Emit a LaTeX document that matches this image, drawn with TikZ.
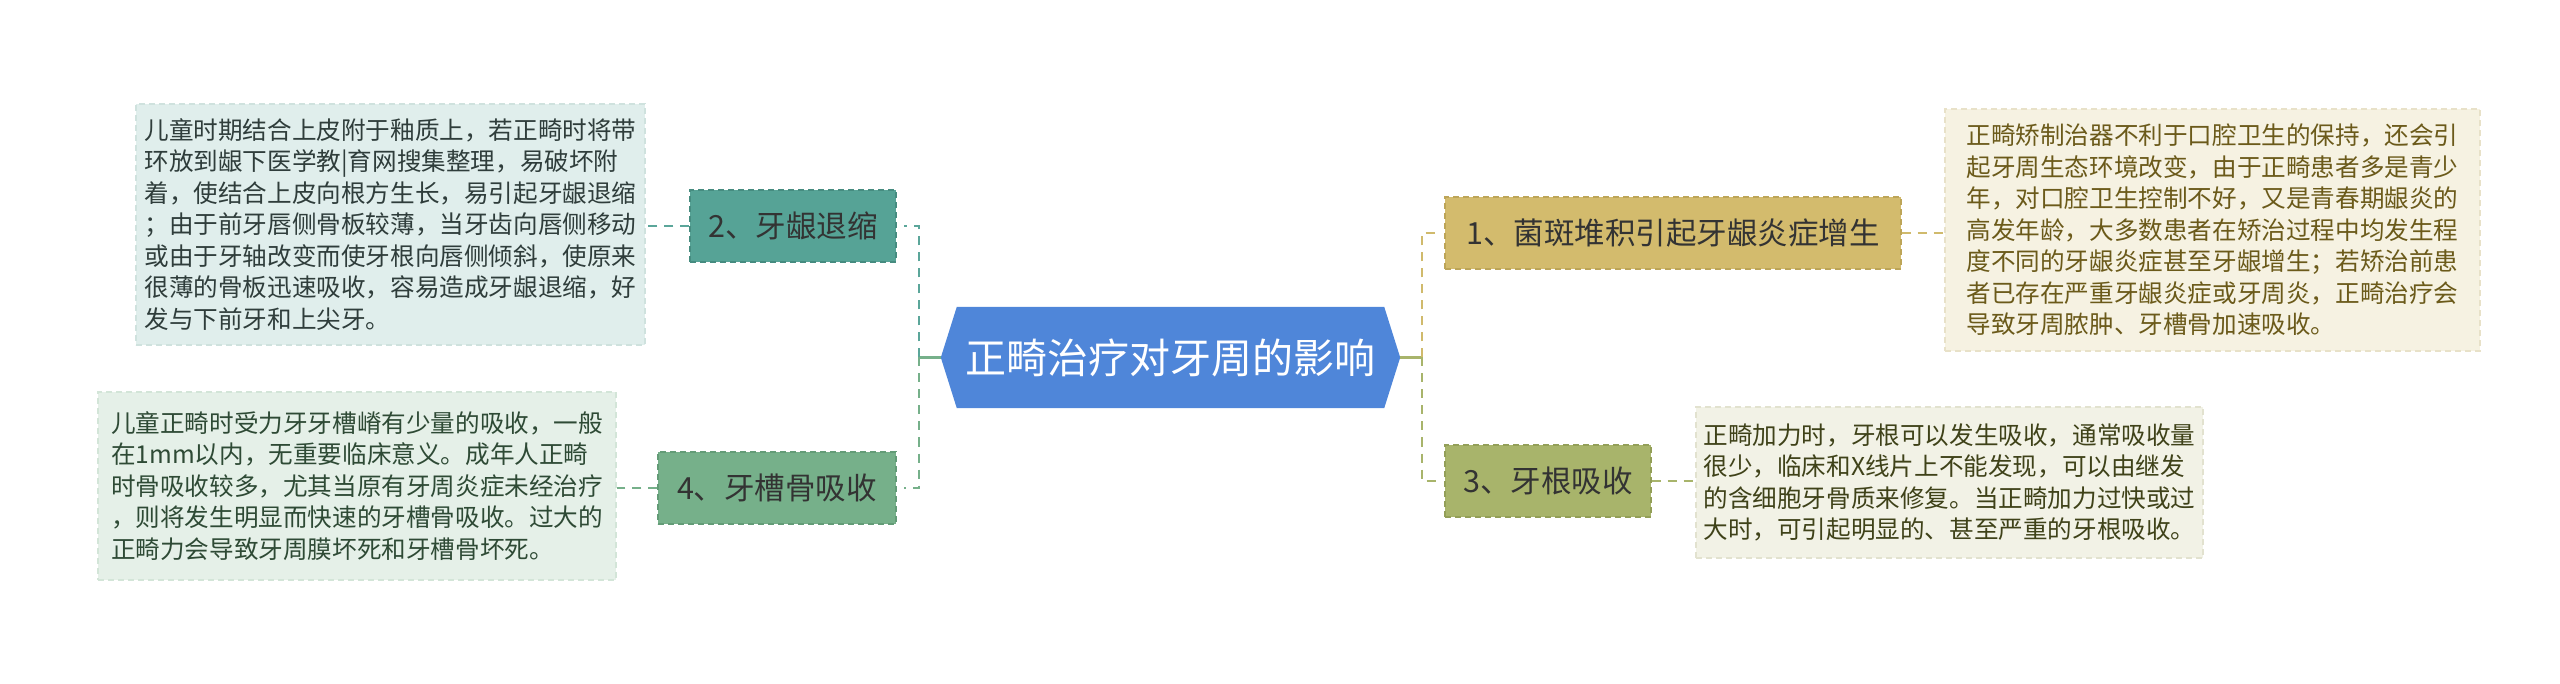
\documentclass[tikz,border=0pt]{standalone}
\usepackage{fontspec}
\setmainfont{Noto Sans CJK SC}
\usetikzlibrary{backgrounds}
\definecolor{rootblue}{HTML}{4F86D9}
\definecolor{ntealF}{HTML}{56A396}
\definecolor{ntealD}{HTML}{468C80}
\definecolor{ngreenF}{HTML}{76B08A}
\definecolor{ngreenD}{HTML}{639C77}
\definecolor{nkhakiF}{HTML}{D3BB6D}
\definecolor{nkhakiD}{HTML}{BDA558}
\definecolor{noliveF}{HTML}{A8B46B}
\definecolor{noliveD}{HTML}{939F58}
\definecolor{dtealF}{HTML}{E0EEEC}
\definecolor{dtealD}{HTML}{CFE2DE}
\definecolor{dgreenF}{HTML}{E5F0E8}
\definecolor{dgreenD}{HTML}{D3E5D8}
\definecolor{dkhakiF}{HTML}{F6F2E2}
\definecolor{dkhakiD}{HTML}{E8E1C8}
\definecolor{doliveF}{HTML}{F2F2E6}
\definecolor{doliveD}{HTML}{E2E2CF}
\definecolor{ltealT}{HTML}{2F3D3B}
\definecolor{lgreenT}{HTML}{2E4A35}
\definecolor{rkhakiT}{HTML}{6B5A1A}
\definecolor{roliveT}{HTML}{3F4219}
\definecolor{cteal}{HTML}{5BA69A}
\definecolor{cgreen}{HTML}{76B08A}
\definecolor{ckhaki}{HTML}{D0BA6C}
\definecolor{colive}{HTML}{A8B46B}
\begin{document}
\begin{tikzpicture}[x=1pt,y=-1pt,
  descbox/.style={dash pattern=on 6pt off 4pt, line width=1.2pt, inner sep=0pt, align=left,
    font=\fontsize{24.6pt}{31.5pt}\selectfont},
  topicbox/.style={dash pattern=on 6pt off 4pt, line width=1.2pt, inner sep=0pt,
    text=black!80, font=\fontsize{30.5pt}{36pt}\selectfont, minimum height=72pt},
  solidlink/.style={line width=2.5pt},
  dashlink/.style={line width=2.5pt, dash pattern=on 9pt off 7pt}
]
\useasboundingbox (0,0) rectangle (2560,684);

% central topic
\node[text=white, font=\fontsize{41pt}{48pt}\selectfont, minimum width=459pt,
  minimum height=101pt, inner sep=0pt] (root) at (1170.5,357.5) {正畸治疗对牙周的影响};
\begin{pgfonlayer}{background}
\fill[rootblue] (root.west) -- ([xshift=16pt]root.north west) -- ([xshift=-16pt]root.north east)
  -- (root.east) -- ([xshift=-16pt]root.south east) -- ([xshift=16pt]root.south west) -- cycle;
\end{pgfonlayer}

% topics
\node[topicbox, fill=ntealF, draw=ntealD, minimum width=206pt] (n2) at (793,226) {2、牙龈退缩};
\node[topicbox, fill=ngreenF, draw=ngreenD, minimum width=238pt] (n4) at (777,488) {4、牙槽骨吸收};
\node[topicbox, fill=nkhakiF, draw=nkhakiD, minimum width=456pt] (n1) at (1673,233) {1、菌斑堆积引起牙龈炎症增生};
\node[topicbox, fill=noliveF, draw=noliveD, minimum width=206pt] (n3) at (1548,481) {3、牙根吸收};

% descriptions
\node[descbox, fill=dtealF, draw=dtealD, text=ltealT, minimum width=509pt, minimum height=241pt]
  (d2) at (390.5,224.5) {儿童时期结合上皮附于釉质上，若正畸时将带\\
环放到龈下医学教|育网搜集整理，易破坏附\\
着，使结合上皮向根方生长，易引起牙龈退缩\\
；由于前牙唇侧骨板较薄，当牙齿向唇侧移动\\
或由于牙轴改变而使牙根向唇侧倾斜，使原来\\
很薄的骨板迅速吸收，容易造成牙龈退缩，好\\
发与下前牙和上尖牙。};
\node[descbox, fill=dgreenF, draw=dgreenD, text=lgreenT, minimum width=518pt, minimum height=188pt]
  (d4) at (357,486) {儿童正畸时受力牙牙槽嵴有少量的吸收，一般\\
在1mm以内，无重要临床意义。成年人正畸\\
时骨吸收较多，尤其当原有牙周炎症未经治疗\\
，则将发生明显而快速的牙槽骨吸收。过大的\\
正畸力会导致牙周膜坏死和牙槽骨坏死。};
\node[descbox, fill=dkhakiF, draw=dkhakiD, text=rkhakiT, minimum width=535pt, minimum height=242pt]
  (d1) at (2212.5,230) {正畸矫制治器不利于口腔卫生的保持，还会引\\
起牙周生态环境改变，由于正畸患者多是青少\\
年，对口腔卫生控制不好，又是青春期龈炎的\\
高发年龄，大多数患者在矫治过程中均发生程\\
度不同的牙龈炎症甚至牙龈增生；若矫治前患\\
者已存在严重牙龈炎症或牙周炎，正畸治疗会\\
导致牙周脓肿、牙槽骨加速吸收。};
\node[descbox, fill=doliveF, draw=doliveD, text=roliveT, minimum width=507pt, minimum height=151pt]
  (d3) at (1949.5,482.5) {正畸加力时，牙根可以发生吸收，通常吸收量\\
很少，临床和X线片上不能发现，可以由继发\\
的含细胞牙骨质来修复。当正畸加力过快或过\\
大时，可引起明显的、甚至严重的牙根吸收。};

% connectors
\coordinate (jl) at (919,357.5);
\coordinate (jr) at (1422,357.5);
\draw[solidlink, cgreen] (root.west) -- (jl);
\draw[solidlink, colive] (root.east) -- (jr);
\draw[dashlink, cteal, shorten >=7pt] (jl) |- (n2.east);
\draw[dashlink, cgreen, shorten >=7pt] (jl) |- (n4.east);
\draw[dashlink, ckhaki, shorten >=4pt] (jr) |- (n1.west);
\draw[dashlink, colive, shorten >=4pt] (jr) |- (n3.west);
\draw[dashlink, cteal] (n2.west) -- (n2.west -| d2.east);
\draw[dashlink, cgreen] (n4.west) -- (n4.west -| d4.east);
\draw[dashlink, ckhaki] (n1.east) -- (n1.east -| d1.west);
\draw[dashlink, colive] (n3.east) -- (n3.east -| d3.west);
\end{tikzpicture}
\end{document}
